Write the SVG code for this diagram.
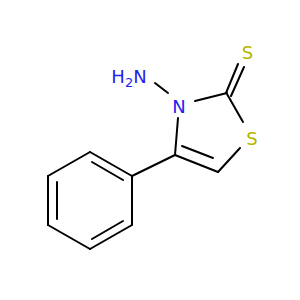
<svg xmlns="http://www.w3.org/2000/svg" width="300" height="300" viewBox="0 0 300 300">
<style>
.b{stroke:#000;stroke-width:2;fill:none;stroke-linecap:round}
.t{font-family:"DejaVu Sans",sans-serif;font-size:18px;text-anchor:middle}
.n{fill:#2222EE}
.s{fill:#B5B500}
</style>
<rect width="300" height="300" fill="#fff"/>
<g id="bonds">
<line class="b" x1="155" y1="83" x2="168" y2="93"/>
<line class="b" x1="195" y1="101" x2="227" y2="93"/>
<line class="b" x1="178" y1="118" x2="175" y2="155"/>
<line class="b" x1="227" y1="94" x2="243" y2="122"/>
<line class="b" x1="240" y1="148" x2="218" y2="172"/>
<line class="b" x1="175" y1="155" x2="218" y2="172"/>
<line class="b" x1="182" y1="146" x2="213" y2="158"/>
<line class="b" x1="226" y1="93" x2="238" y2="64"/>
<line class="b" x1="231" y1="96" x2="244" y2="67"/>
<line class="b" x1="132" y1="176" x2="175" y2="155"/>
<line class="b" x1="132" y1="176" x2="90" y2="152"/>
<line class="b" x1="90" y1="152" x2="48" y2="176"/>
<line class="b" x1="48" y1="176" x2="48" y2="225"/>
<line class="b" x1="48" y1="225" x2="90" y2="249"/>
<line class="b" x1="90" y1="249" x2="132" y2="225"/>
<line class="b" x1="132" y1="225" x2="132" y2="176"/>
<line class="b" x1="92" y1="162" x2="123" y2="180"/>
<line class="b" x1="57" y1="182" x2="57" y2="219"/>
<line class="b" x1="92" y1="239" x2="123" y2="221"/>
</g>
<g id="NH2"><text class="t n" x="129" y="83">H<tspan font-size="13" dy="4">2</tspan><tspan dy="-4">N</tspan></text></g>
<g id="N3"><text class="t n" x="179" y="113">N</text></g>
<g id="S_exo"><text class="t s" x="247.5" y="59">S</text></g>
<g id="S1"><text class="t s" x="252" y="145">S</text></g>
</svg>
